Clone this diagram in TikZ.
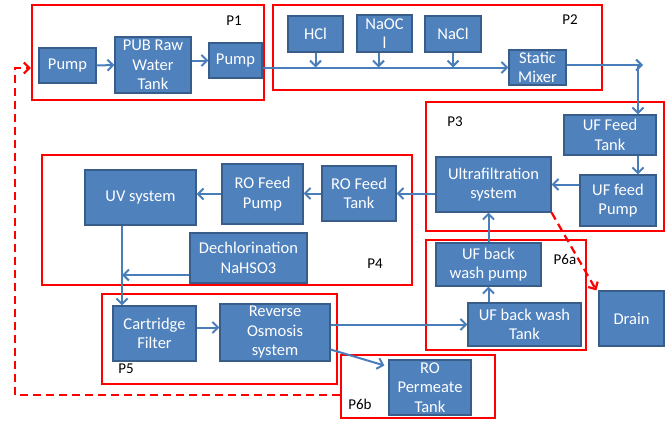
\documentclass[tikz,border=0pt]{standalone}
\usepackage{fontspec}
\setmainfont{Carlito}
\usetikzlibrary{arrows.meta}
\definecolor{boxblue}{HTML}{4F81BD}
\definecolor{boxedge}{HTML}{385D8A}
\definecolor{flowblue}{HTML}{4A7EBB}
\definecolor{zonered}{HTML}{FF0000}

\begin{document}
\begin{tikzpicture}
[every node/.style={inner sep=0pt},
 stage/.style={rectangle, fill=boxblue, draw=boxedge, line width=1.2pt, text=white, align=center, font=\fontsize{16.5}{19.5}\selectfont},
 zone/.style={rectangle, draw=zonered, line width=2.2pt},
 tag/.style={text=black, font=\fontsize{15}{18}\selectfont},
 flow/.style={line width=2pt, draw=flowblue, -{Straight Barb[length=5.5pt,width=11pt]}},
 waste/.style={line width=2.2pt, draw=zonered, dash pattern=on 8pt off 5pt, -{Straight Barb[length=5.5pt,width=11pt]}}]
\useasboundingbox (0pt,0pt) rectangle (669pt,-426pt);
% red process zones
\node (P1) [zone, minimum width=232pt, minimum height=95pt] at (148pt, -52.5pt) {};
\node (P2) [zone, minimum width=329pt, minimum height=85pt] at (437.5pt, -47.5pt) {};
\node (P3) [zone, minimum width=238pt, minimum height=129pt] at (545pt, -166.5pt) {};
\node (P4) [zone, minimum width=370pt, minimum height=130pt] at (227pt, -220pt) {};
\node (P5) [zone, minimum width=235pt, minimum height=90pt] at (219.5pt, -339pt) {};
\node (P6a) [zone, minimum width=160pt, minimum height=110pt] at (506pt, -295pt) {};
\node (P6b) [zone, minimum width=154pt, minimum height=63pt] at (418pt, -386.5pt) {};
\node (t1) [tag] at (234pt, -21pt) {P1};
\node (t2) [tag] at (570pt, -20pt) {P2};
\node (t3) [tag] at (455pt, -122pt) {P3};
\node (t4) [tag] at (375pt, -264pt) {P4};
\node (t5) [tag] at (126pt, -369pt) {P5};
\node (t6a) [tag] at (565pt, -259pt) {P6a};
\node (t6b) [tag] at (360pt, -404pt) {P6b};
% process units
\node (pumpA) [stage, minimum width=57pt, minimum height=35pt] at (67.5pt, -65.5pt) {Pump};
\node (rawtank) [stage, minimum width=76pt, minimum height=56pt] at (153pt, -65pt) {PUB Raw\\Water\\Tank};
\node (pumpB) [stage, minimum width=53pt, minimum height=35pt] at (235.5pt, -60.5pt) {Pump};
\node (hcl) [stage, minimum width=55pt, minimum height=36pt] at (315.5pt, -34pt) {HCl};
\node (naocl) [stage, minimum width=55pt, minimum height=37pt] at (384.5pt, -33.5pt) {NaOC\\l};
\node (nacl) [stage, minimum width=56pt, minimum height=36pt] at (453pt, -34pt) {NaCl};
\node (mixer) [stage, minimum width=57pt, minimum height=35pt] at (537.5pt, -67.5pt) {Static\\Mixer};
\node (uftank) [stage, minimum width=92pt, minimum height=40pt] at (610pt, -135pt) {UF Feed\\Tank};
\node (ufpump) [stage, minimum width=76pt, minimum height=51pt] at (618pt, -200.5pt) {UF feed\\Pump};
\node (ufsys) [stage, minimum width=115pt, minimum height=55pt] at (493.5pt, -184.5pt) {Ultrafiltration\\system};
\node (rotank) [stage, minimum width=74pt, minimum height=55pt] at (359pt, -193.5pt) {RO Feed\\Tank};
\node (ropump) [stage, minimum width=81pt, minimum height=60pt] at (262.5pt, -194pt) {RO Feed\\Pump};
\node (uv) [stage, minimum width=111pt, minimum height=55pt] at (140.5pt, -197.5pt) {UV system};
\node (dechlor) [stage, minimum width=117pt, minimum height=50pt] at (248.5pt, -258pt) {Dechlorination\\NaHSO3};
\node (bwpump) [stage, minimum width=105pt, minimum height=43pt] at (488.5pt, -264.5pt) {UF back\\wash pump};
\node (bwtank) [stage, minimum width=113pt, minimum height=43pt] at (524.5pt, -324.5pt) {UF back wash\\Tank};
\node (drain) [stage, minimum width=65pt, minimum height=55pt] at (631.5pt, -318.5pt) {Drain};
\node (cartridge) [stage, minimum width=83pt, minimum height=55pt] at (154.5pt, -333.5pt) {Cartridge\\Filter};
\node (ro) [stage, minimum width=110pt, minimum height=57pt] at (275pt, -332.5pt) {Reverse\\Osmosis\\system};
\node (permeate) [stage, minimum width=82pt, minimum height=55pt] at (430pt, -387.5pt) {RO\\Permeate\\Tank};
\coordinate (turn) at (638pt, -65pt);
\coordinate (uvdrop) at ([xshift=-18.5pt]uv.south);
\coordinate (back) at (15pt, -68pt);
% flows
\draw [flow] (pumpA.east) to (rawtank.west);
\draw [flow] (rawtank.east |- pumpB.west) to (pumpB.west);
\draw [flow] (pumpB.east |- mixer.west) to (mixer.west);
\draw [flow] (hcl.south) to (hcl.south |- mixer.west);
\draw [flow] ([xshift=-6pt]naocl.south) to ([xshift=-6pt]naocl.south |- mixer.west);
\draw [flow] (nacl.south) to (nacl.south |- mixer.west);
\draw [flow] (mixer.east |- turn) to ([xshift=5pt]turn);
\draw [flow] (turn) to (turn |- uftank.north);
\draw [flow] (turn |- uftank.south) to (turn |- ufpump.north);
\draw [flow] (ufpump.west |- ufsys.east) to (ufsys.east);
\draw [flow] (ufsys.west |- rotank.east) to (rotank.east);
\draw [flow] (rotank.west) to (rotank.west -| ropump.east);
\draw [flow] (ropump.west) to (ropump.west -| uv.east);
\draw [flow] (uvdrop) to (uvdrop |- cartridge.north);
\draw [flow] ([yshift=-17pt]dechlor.west) to ([yshift=-17pt]dechlor.west -| uvdrop);
\draw [flow] ([yshift=6pt]cartridge.east) to ([yshift=6pt]cartridge.east -| ro.west);
\draw [flow] (ro.east |- bwtank.west) to (bwtank.west);
\draw [flow] ([yshift=-17pt]ro.east) to ([xshift=-4pt,yshift=22pt]permeate.west);
\draw [flow] (bwtank.north -| bwpump) to (bwpump.south);
\draw [flow] (bwpump.north) to (bwpump.north |- ufsys.south);
\draw [waste] (ufsys.south east) to ([xshift=-2pt]drain.north west);
\draw [waste] ([yshift=-8.5pt]P6b.west) -| (back) to (back -| P1.west);
\end{tikzpicture}
\end{document}
